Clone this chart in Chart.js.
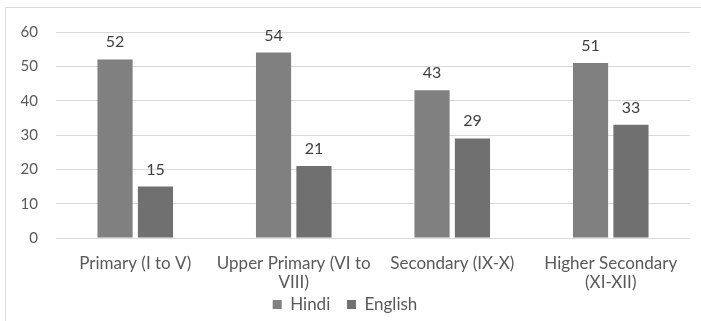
<!DOCTYPE html>
<html>
<head>
<meta charset="utf-8">
<script src="https://cdn.jsdelivr.net/npm/chart.js@4/dist/chart.umd.min.js"></script>
<style>
  html, body { margin: 0; padding: 0; background: #fff; }
  #wrap { position: relative; width: 701px; height: 321px; overflow: hidden; }
  #frame { position: absolute; left: 5px; top: 7px; width: 720px; height: 330px; border: 1px solid #d9d9d9; box-sizing: border-box; }
  canvas { position: absolute; left: 0; top: 0; }
</style>
</head>
<body>
<div id="wrap">
  <div id="frame"></div>
  <canvas id="c" width="701" height="321"></canvas>
</div>
<script>
const categories = [
  ['Primary (I to V)'],
  ['Upper Primary (VI to', 'VIII)'],
  ['Secondary (IX-X)'],
  ['Higher Secondary', '(XI-XII)']
];
const seriesNames = ['Hindi', 'English'];
const hindi = [52, 54, 43, 51];
const english = [15, 21, 29, 33];
const yTicks = [0, 10, 20, 30, 40, 50, 60];

const FONT = "Lato, 'Open Sans', sans-serif";
const TEXT = '#595959';

// Value labels above each bar
const valueLabels = {
  id: 'valueLabels',
  afterDatasetsDraw(chart) {
    const ctx = chart.ctx;
    ctx.save();
    ctx.font = '16px ' + FONT;
    ctx.fillStyle = '#404040';
    ctx.textAlign = 'center';
    ctx.textBaseline = 'alphabetic';
    chart.data.datasets.forEach((ds, i) => {
      chart.getDatasetMeta(i).data.forEach((bar, j) => {
        ctx.fillText(String(ds.data[j]), bar.x, bar.y - 12);
      });
    });
    ctx.restore();
  }
};

new Chart(document.getElementById('c'), {
  type: 'bar',
  data: {
    labels: categories,
    datasets: [
      { label: seriesNames[0], data: hindi, backgroundColor: '#808080', categoryPercentage: 0.51, barPercentage: 0.87 },
      { label: seriesNames[1], data: english, backgroundColor: '#707070', categoryPercentage: 0.51, barPercentage: 0.87 }
    ]
  },
  options: {
    responsive: false,
    animation: false,
    devicePixelRatio: 1,
    layout: { padding: { left: 0, right: 11, top: 32, bottom: -2 } },
    plugins: {
      legend: {
        position: 'bottom',
        labels: {
          boxWidth: 9, boxHeight: 9, padding: 4,
          color: TEXT,
          font: { family: FONT, size: 17 },
          // wider gap after the first entry
          generateLabels(chart) {
            const items = Chart.defaults.plugins.legend.labels.generateLabels(chart);
            items.forEach((it, i) => { if (i < items.length - 1) it.text += '\u2003'; });
            return items;
          }
        }
      },
      tooltip: { enabled: false }
    },
    scales: {
      x: {
        afterFit(scale) { scale.height = 54; },
        grid: { display: false, drawTicks: false },
        border: { display: false },
        ticks: {
          color: TEXT, padding: 16, maxRotation: 0, autoSkip: false,
          font: { family: FONT, size: 17, lineHeight: 1.12 }
        }
      },
      y: {
        min: 0, max: 60,
        afterBuildTicks(scale) { scale.ticks = yTicks.map(v => ({ value: v })); },
        afterFit(scale) { scale.width = 56; },
        grid: { color: '#d9d9d9', lineWidth: 1, drawTicks: false },
        border: { display: false },
        ticks: {
          color: TEXT, padding: 18,
          font: { family: FONT, size: 15 }
        }
      }
    }
  },
  plugins: [valueLabels]
});
</script>
</body>
</html>
